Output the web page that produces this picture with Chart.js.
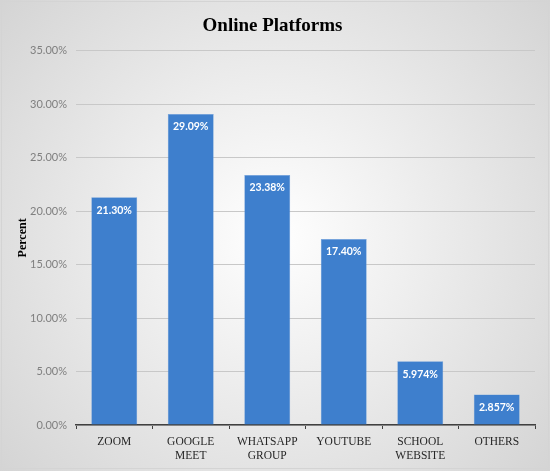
<!DOCTYPE html>
<html>
<head>
<meta charset="utf-8">
<script src="https://cdn.jsdelivr.net/npm/chart.js@4"></script>
<style>
  html, body { margin: 0; padding: 0; background: #fff; }
  #wrap { width: 550px; height: 471px; position: relative; }
</style>
</head>
<body>
<div id="wrap"><canvas id="chart"></canvas></div>
<script>
const categories = [['ZOOM'], ['GOOGLE', 'MEET'], ['WHATSAPP', 'GROUP'], ['YOUTUBE'], ['SCHOOL', 'WEBSITE'], ['OTHERS']];
const percentValues = [21.30, 29.09, 23.38, 17.40, 5.974, 2.857];
const valueLabels = ['21.30%', '29.09%', '23.38%', '17.40%', '5.974%', '2.857%'];
const yTicks = [0, 5, 10, 15, 20, 25, 30, 35];

// radial grey background + thin frame
const backdrop = {
    id: 'backdrop',
    beforeDraw(chart) {
        const { ctx, width, height } = chart;
        ctx.save();
        const g = ctx.createRadialGradient(width / 2, height / 2, 0, width / 2, height / 2, width * 0.72);
        g.addColorStop(0, '#ffffff');
        g.addColorStop(1, '#d0d0d0');
        ctx.fillStyle = g;
        ctx.fillRect(0, 0, width, height);
        ctx.strokeStyle = '#d4d4d4';
        ctx.lineWidth = 1;
        ctx.strokeRect(1.5, 1.5, width - 3, height - 4);
        ctx.restore();
    }
};

// white value labels inside the top of each bar
const barLabels = {
    id: 'barLabels',
    afterDatasetsDraw(chart) {
        const { ctx } = chart;
        const meta = chart.getDatasetMeta(0);
        ctx.save();
        ctx.fillStyle = '#ffffff';
        ctx.font = "bold 10.5px Lato, 'Open Sans', sans-serif";
        ctx.textAlign = 'center';
        ctx.textBaseline = 'middle';
        meta.data.forEach((bar, i) => {
            ctx.fillText(valueLabels[i], bar.x, bar.y + 13);
        });
        ctx.restore();
    }
};

new Chart(document.getElementById('chart'), {
    type: 'bar',
    data: {
        labels: categories,
        datasets: [{
            data: percentValues,
            backgroundColor: '#3e7fcd',
            borderColor: '#6a9edb',
            borderWidth: 0.5,
            categoryPercentage: 1,
            barPercentage: 0.6
        }]
    },
    options: {
        responsive: true,
        maintainAspectRatio: false,
        animation: false,
        layout: { padding: { left: 10, right: 15, top: 6, bottom: 10 } },
        plugins: {
            legend: { display: false },
            tooltip: { enabled: false },
            title: {
                display: true,
                text: 'Online Platforms',
                color: '#000000',
                font: { family: "'Liberation Serif', 'DejaVu Serif', serif", size: 19, weight: 'bold' },
                padding: { top: 9, bottom: 13 }
            }
        },
        scales: {
            x: {
                grid: { drawOnChartArea: false, color: '#404040', tickLength: 4, offset: true },
                border: { color: '#404040', width: 1.5 },
                ticks: {
                    color: '#262626',
                    font: { family: "'Liberation Serif', 'DejaVu Serif', serif", size: 11.5 },
                    maxRotation: 0,
                    padding: 6
                },
                afterFit(scale) { scale.height = 36; }
            },
            y: {
                min: 0,
                max: 35,
                afterBuildTicks(scale) { scale.ticks = yTicks.map(v => ({ value: v })); },
                grid: { color: '#c8c8c8', drawTicks: false },
                border: { display: false },
                ticks: {
                    color: '#7f7f7f',
                    font: { family: "Lato, 'Open Sans', sans-serif", size: 11 },
                    padding: 9,
                    callback: v => v.toFixed(2) + '%'
                },
                title: {
                    display: true,
                    text: 'Percent',
                    color: '#000000',
                    font: { family: "'Liberation Serif', 'DejaVu Serif', serif", size: 12, weight: 'bold' },
                    padding: { top: 6, bottom: 0 }
                },
                afterFit(scale) { scale.width = 66; }
            }
        }
    },
    plugins: [backdrop, barLabels]
});
</script>
</body>
</html>
